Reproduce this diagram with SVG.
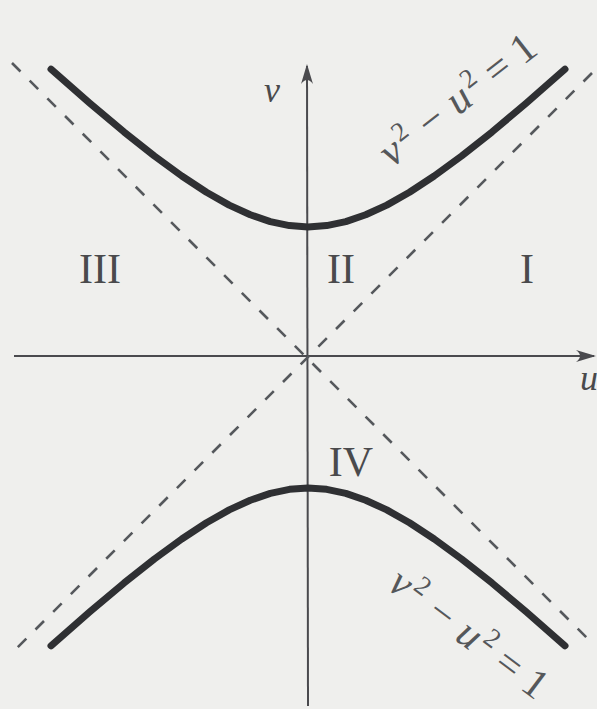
<svg xmlns="http://www.w3.org/2000/svg" width="597" height="709" viewBox="0 0 597 709">
<style>
.bg{fill:#efefed}
.axis{stroke:#4a4a4e;stroke-width:2;fill:none}
.asym{stroke:#55585c;stroke-width:2.6;fill:none;stroke-dasharray:12 13}
.curve{stroke:#2f3033;stroke-width:7;fill:none;stroke-linecap:round;stroke-linejoin:round}
.roman{font-family:"Liberation Serif","DejaVu Serif",serif;font-size:42px;fill:#4a4a4c;text-anchor:middle}
.var{font-family:"Liberation Serif","DejaVu Serif",serif;font-style:italic;font-size:36px;fill:#4a4a4c}
.eq{font-family:"Liberation Serif","DejaVu Serif",serif;font-style:italic;font-size:42px;fill:#55575a}
.sup{font-size:27px;font-style:normal}
</style>
<defs>
<marker id="arr" viewBox="0 0 20 12" refX="18" refY="6" markerWidth="20" markerHeight="12" markerUnits="userSpaceOnUse" orient="auto">
<path d="M0,0 Q8,6 0,12 L20,6 Z" fill="#4a4a4e"/>
</marker>
</defs>
<rect class="bg" x="0" y="0" width="597" height="709"/>
<g id="connectors">
<line id="u-axis" class="axis" x1="14" y1="356" x2="594" y2="356" marker-end="url(#arr)"/>
<line id="v-axis" class="axis" x1="308" y1="706" x2="307" y2="66" marker-end="url(#arr)"/>
<line id="asym1" class="asym" x1="12" y1="63" x2="592" y2="643"/>
<line id="asym2" class="asym" x1="592" y1="73" x2="12" y2="653"/>
</g>
<g id="upper-branch">
<polyline class="curve" points="51,69.2 89.7,103.1 124,131.9 154.4,156 181.8,176 206.5,192.2 229.2,205.1 250.3,214.8 270.3,221.6 289.4,225.6 308,227 326.7,225.6 345.8,221.6 365.7,214.8 386.8,205.1 409.5,192.2 434.2,176 461.6,156 492.1,131.9 526.3,103.1 565,69.2"/>
</g>
<g id="lower-branch">
<polyline class="curve" points="51,645.8 89.7,611.9 124,583.1 154.4,559 181.8,539 206.5,522.8 229.2,509.9 250.3,500.2 270.3,493.4 289.4,489.3 308,488 326.7,489.3 345.8,493.4 365.7,500.2 386.8,509.9 409.5,522.8 434.2,539 461.6,559 492.1,583.1 526.3,611.9 565,645.8"/>
</g>
<g id="labels">
<text class="var" x="264" y="102">v</text>
<text class="var" x="580" y="390">u</text>
<text class="roman" x="100" y="283">III</text>
<text class="roman" x="341" y="283">II</text>
<text class="roman" x="527" y="283">I</text>
<text class="roman" x="351" y="476">IV</text>
<text class="eq" transform="translate(392,168) rotate(-38)">v<tspan class="sup" dx="3" dy="-15">2</tspan><tspan dy="15"> − u</tspan><tspan class="sup" dx="3" dy="-15">2</tspan><tspan dy="15" font-style="normal"> = 1</tspan></text>
<text class="eq" transform="translate(386,588) rotate(37)">v<tspan class="sup" dx="3" dy="-15">2</tspan><tspan dy="15"> − u</tspan><tspan class="sup" dx="3" dy="-15">2</tspan><tspan dy="15" font-style="normal"> = 1</tspan></text>
</g>
</svg>
